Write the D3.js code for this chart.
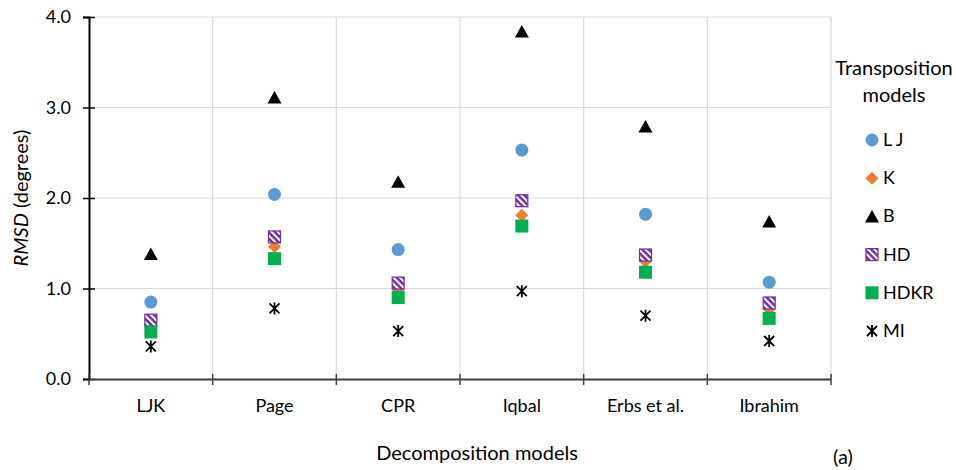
<!DOCTYPE html>
<html>
<head>
<meta charset="utf-8">
<script src="https://cdn.jsdelivr.net/npm/d3@7"></script>
<style>
  body { margin: 0; background: #fff; }
  svg text { font-family: Lato, "Open Sans", sans-serif; fill: #000; }
</style>
</head>
<body>
<div id="chart"></div>
<script>
const categories = ["LJK", "Page", "CPR", "Iqbal", "Erbs et al.", "Ibrahim"];
const seriesNames = ["L J", "K", "B", "HD", "HDKR", "MI"];
const valsLJ   = [0.85, 2.04, 1.43, 2.53, 1.82, 1.07];
const valsK    = [0.58, 1.46, 0.99, 1.81, 1.30, 0.77];
const valsB    = [1.38, 3.11, 2.18, 3.84, 2.79, 1.74];
const valsHD   = [0.65, 1.57, 1.06, 1.97, 1.37, 0.84];
const valsHDKR = [0.52, 1.33, 0.90, 1.69, 1.18, 0.67];
const valsMI   = [0.36, 0.78, 0.53, 0.97, 0.70, 0.42];
const yTicks = [0, 1, 2, 3, 4];

const allVals = [valsLJ, valsK, valsB, valsHD, valsHDKR, valsMI];

const width = 956, height = 470;
const margin = {top: 17, right: 125, bottom: 91, left: 89};

const svg = d3.select("#chart").append("svg")
    .attr("width", width)
    .attr("height", height);

// diagonal stripe fill for HD
const defs = svg.append("defs");
const pat = defs.append("pattern")
    .attr("id", "hdPattern")
    .attr("patternUnits", "userSpaceOnUse")
    .attr("width", 4.5).attr("height", 4.5)
    .attr("patternTransform", "rotate(-45)");
pat.append("rect").attr("width", 4.5).attr("height", 4.5).attr("fill", "#7030a0");
pat.append("rect").attr("width", 2).attr("height", 4.5).attr("fill", "#fff");

const x = d3.scaleBand()
    .domain(categories)
    .range([margin.left, width - margin.right]);
const y = d3.scaleLinear()
    .domain([0, 4])
    .range([height - margin.bottom, margin.top]);

// gridlines
svg.append("g")
    .selectAll("line")
    .data(yTicks.slice(1))
    .join("line")
    .attr("x1", margin.left).attr("x2", width - margin.right)
    .attr("y1", d => y(d)).attr("y2", d => y(d))
    .attr("stroke", "#d9d9d9").attr("stroke-width", 1.2);
svg.append("g")
    .selectAll("line")
    .data(categories)
    .join("line")
    .attr("x1", d => x(d) + x.bandwidth()).attr("x2", d => x(d) + x.bandwidth())
    .attr("y1", margin.top).attr("y2", y(0))
    .attr("stroke", "#d9d9d9").attr("stroke-width", 1.2);

// y axis
const yAxis = d3.axisLeft(y).tickValues(yTicks).tickFormat(d3.format(".1f")).tickSize(6).tickPadding(12);
svg.append("g")
    .attr("transform", `translate(${margin.left},0)`)
    .call(yAxis)
    .call(g => g.select(".domain").attr("stroke", "#000").attr("stroke-width", 2))
    .call(g => g.selectAll(".tick line").attr("x2", -6).attr("x1", 6).attr("stroke", "#000").attr("stroke-width", 1.5))
    .call(g => g.selectAll(".tick text").attr("font-size", 18).attr("font-family", "Lato, sans-serif").attr("fill", "#000"));

// x axis
const xAxis = d3.axisBottom(x).tickSize(0).tickPadding(20);
svg.append("g")
    .attr("transform", `translate(0,${y(0)})`)
    .call(xAxis)
    .call(g => g.select(".domain").attr("stroke", "#404040").attr("stroke-width", 2))
    .call(g => g.selectAll(".tick text").attr("font-size", 18).attr("font-family", "Lato, sans-serif").attr("fill", "#000"));

// x boundary ticks
const bounds = [x(categories[0])].concat(categories.map(c => x(c) + x.bandwidth()));
svg.append("g")
    .selectAll("line")
    .data(bounds)
    .join("line")
    .attr("x1", d => d).attr("x2", d => d)
    .attr("y1", y(0) - 5).attr("y2", y(0) + 6)
    .attr("stroke", "#404040").attr("stroke-width", 1.5);

// markers
function drawMarker(g, i, cx, cy) {
  if (i === 0) {
    g.append("circle").attr("cx", cx).attr("cy", cy).attr("r", 6.5).attr("fill", "#5b9bd5");
  } else if (i === 1) {
    g.append("path").attr("transform", `translate(${cx},${cy})`)
      .attr("d", "M0,-6.5L6.5,0L0,6.5L-6.5,0Z").attr("fill", "#ed7d31");
  } else if (i === 2) {
    g.append("path").attr("transform", `translate(${cx},${cy})`)
      .attr("d", "M0,-6.5L7,6L-7,6Z").attr("fill", "#000");
  } else if (i === 3) {
    g.append("rect").attr("x", cx - 6).attr("y", cy - 6).attr("width", 12).attr("height", 12)
      .attr("fill", "url(#hdPattern)").attr("stroke", "#7030a0").attr("stroke-width", 1.2);
  } else if (i === 4) {
    g.append("rect").attr("x", cx - 6.5).attr("y", cy - 6.5).attr("width", 13).attr("height", 13)
      .attr("fill", "#00b050");
  } else {
    g.append("path").attr("transform", `translate(${cx},${cy})`)
      .attr("d", "M-5,-5L5,5M5,-5L-5,5M0,-6L0,6")
      .attr("stroke", "#000").attr("stroke-width", 1.8).attr("fill", "none");
  }
}

const pts = svg.append("g");
allVals.forEach((vals, i) => {
  vals.forEach((v, j) => {
    drawMarker(pts, i, x(categories[j]) + x.bandwidth() / 2, y(v));
  });
});

// axis titles
const yt = svg.append("text")
    .attr("transform", `translate(28,${(y(0) + y(4)) / 2}) rotate(-90)`)
    .attr("text-anchor", "middle")
    .attr("font-size", 20);
yt.append("tspan").attr("font-style", "italic").text("RMSD");
yt.append("tspan").text(" (degrees)");

svg.append("text")
    .attr("x", 477)
    .attr("y", 460)
    .attr("text-anchor", "middle")
    .attr("font-size", 20)
    .text("Decomposition models");

svg.append("text")
    .attr("x", 843).attr("y", 464)
    .attr("text-anchor", "middle")
    .attr("font-size", 20)
    .text("(a)");

// legend
const lg = svg.append("g");
lg.append("text").attr("x", 894).attr("y", 75).attr("text-anchor", "middle").attr("font-size", 20).text("Transposition");
lg.append("text").attr("x", 894).attr("y", 102).attr("text-anchor", "middle").attr("font-size", 20).text("models");
const legY = d3.scalePoint().domain(seriesNames).range([140, 331]);
seriesNames.forEach((name, i) => {
  drawMarker(lg, i, 872, legY(name));
  lg.append("text").attr("x", 883).attr("y", legY(name) + 6).attr("font-size", 18).text(name);
});
</script>
</body>
</html>
